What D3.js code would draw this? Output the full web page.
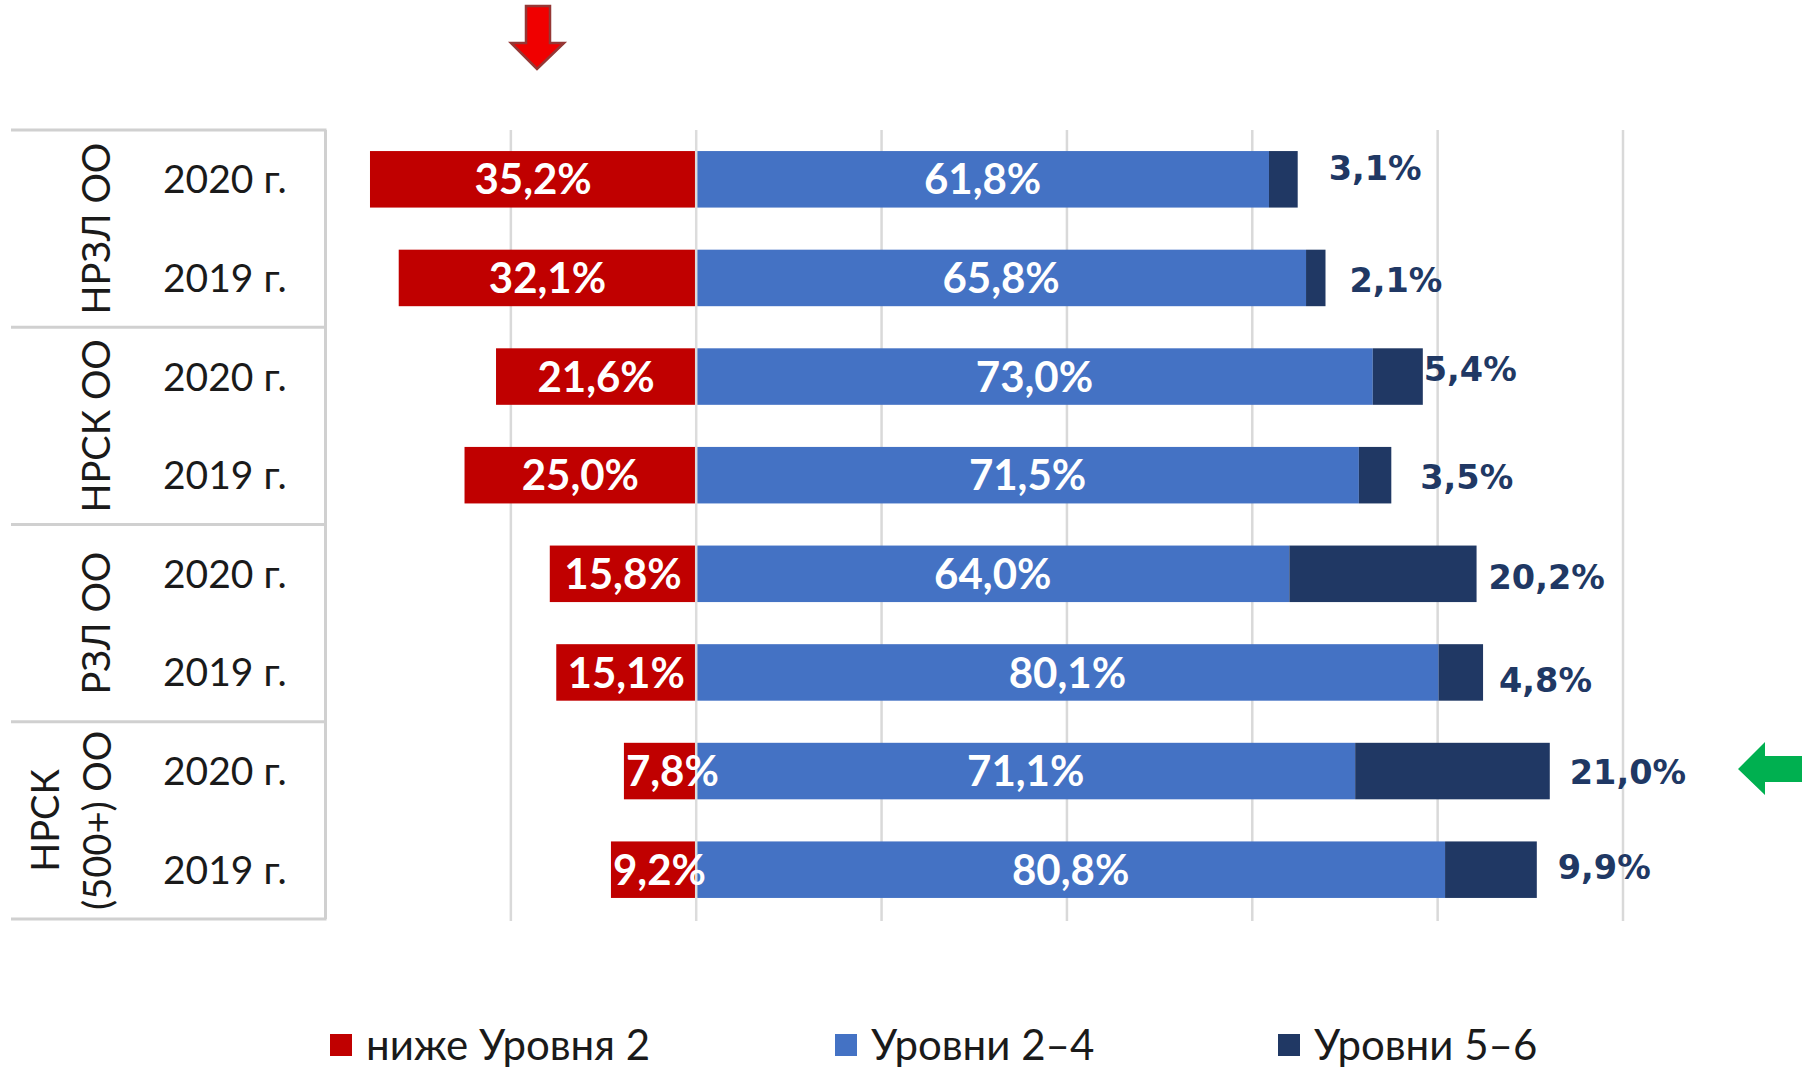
<!DOCTYPE html>
<meta charset="utf-8">
<script src="https://d3js.org/d3.v7.min.js"></script>
<style>
    body {
        margin: 0;
        background: #fff;
    }
    svg text {
        font-family: Lato, "Open Sans", sans-serif;
    }
</style>
<div id="viz_area"></div>
<script>
    // data
    var groups = [["НРЗЛ ОО"], ["НРСК ОО"], ["РЗЛ ОО"], ["НРСК", "(500+) ОО"]]
    var years = ["2020 г.", "2019 г."]
    var below2 = [35.2, 32.1, 21.6, 25.0, 15.8, 15.1, 7.8, 9.2]
    var levels24 = [61.8, 65.8, 73.0, 71.5, 64.0, 80.1, 71.1, 80.8]
    var levels56 = [3.1, 2.1, 5.4, 3.5, 20.2, 4.8, 21.0, 9.9]
    var seriesNames = ["ниже Уровня 2", "Уровни 2–4", "Уровни 5–6"]
    var xTicks = [-20, 0, 20, 40, 60, 80, 100]

    // outside label nudges (as placed by hand in the original)
    var nudge = [[11, -11], [4, 2], [-19, -8], [9, 2], [-8, 3], [-4, 8], [0, 1], [1, -3]]

    var colors = ["#c00000", "#4472c4", "#203864"]
    var W = 1805, H = 1069
    var plotTop = 130, plotBottom = 919, tableLeft = 11

    var rows = []
    groups.forEach(function(g, gi) {
        years.forEach(function(y, yi) {
            rows.push({ group: gi, year: y, i: gi * 2 + yi })
        })
    })
    rows.forEach(function(r) {
        r.b = below2[r.i]
        r.m = levels24[r.i]
        r.h = levels56[r.i]
    })

    var svg = d3.select("#viz_area").append("svg")
        .attr("width", W)
        .attr("height", H)

    var x = d3.scaleLinear().domain([-40, 100]).range([325.5, 1623])
    var y = d3.scaleBand().domain(rows.map(function(d) { return d.i }))
        .range([plotTop, plotBottom]).paddingInner(0.427).paddingOuter(0.2135)
    var yg = d3.scaleBand().domain(d3.range(groups.length)).range([plotTop, plotBottom])

    // gridlines
    svg.append("g").selectAll("line")
        .data(xTicks.filter(function(t) { return t !== 0 }))
        .join("line")
        .attr("x1", function(d) { return x(d) })
        .attr("x2", function(d) { return x(d) })
        .attr("y1", plotTop).attr("y2", plotBottom + 2)
        .attr("stroke", "#d9d9d9")
        .attr("stroke-width", 2.5)

    // bars
    var bars = svg.append("g")
    bars.selectAll("rect.b").data(rows).join("rect")
        .attr("class", "b")
        .attr("x", function(d) { return x(-d.b) })
        .attr("width", function(d) { return x(0) - x(-d.b) })
        .attr("y", function(d) { return y(d.i) })
        .attr("height", y.bandwidth())
        .attr("fill", colors[0])
    bars.selectAll("rect.m").data(rows).join("rect")
        .attr("class", "m")
        .attr("x", x(0))
        .attr("width", function(d) { return x(d.m) - x(0) })
        .attr("y", function(d) { return y(d.i) })
        .attr("height", y.bandwidth())
        .attr("fill", colors[1])
    bars.selectAll("rect.h").data(rows).join("rect")
        .attr("class", "h")
        .attr("x", function(d) { return x(d.m) })
        .attr("width", function(d) { return x(d.m + d.h) - x(d.m) })
        .attr("y", function(d) { return y(d.i) })
        .attr("height", y.bandwidth())
        .attr("fill", colors[2])

    // zero line
    svg.append("line")
        .attr("x1", x(0)).attr("x2", x(0))
        .attr("y1", plotTop).attr("y2", plotBottom + 2)
        .attr("stroke", "#dcdcdc")
        .attr("stroke-width", 2.5)

    var fmt = function(v) { return v.toFixed(1).replace(".", ",") + "%" }
    var cy = function(d) { return y(d.i) + y.bandwidth() / 2 }

    // value labels
    var lab = svg.append("g")
    lab.selectAll("text.lb").data(rows).join("text")
        .attr("class", "lb")
        .attr("x", function(d) { return (x(-d.b) + x(0)) / 2 })
        .attr("y", cy)
        .attr("dy", "0.36em")
        .attr("text-anchor", "middle")
        .attr("fill", "#fff")
        .attr("font-weight", "bold")
        .attr("font-size", "42px")
        .text(function(d) { return fmt(d.b) })
        .each(function(d) {
            // too wide for the bar: start it at the bar's left end
            var w = this.getComputedTextLength()
            if (w > x(0) - x(-d.b)) {
                d3.select(this).attr("text-anchor", "start").attr("x", x(-d.b) + 2)
            }
        })
    lab.selectAll("text.lm").data(rows).join("text")
        .attr("class", "lm")
        .attr("x", function(d) { return (x(0) + x(d.m)) / 2 })
        .attr("y", cy)
        .attr("dy", "0.36em")
        .attr("text-anchor", "middle")
        .attr("fill", "#fff")
        .attr("font-weight", "bold")
        .attr("font-size", "42px")
        .text(function(d) { return fmt(d.m) })
    lab.selectAll("text.lh").data(rows).join("text")
        .attr("class", "lh")
        .attr("x", function(d) { return x(d.m + d.h) + 20 + nudge[d.i][0] })
        .attr("y", function(d) { return cy(d) + nudge[d.i][1] })
        .attr("dy", "0.36em")
        .attr("fill", "#203864")
        .attr("font-weight", "bold")
        .attr("font-size", "33.5px")
        .style("font-family", "'DejaVu Sans', Verdana, sans-serif")
        .text(function(d) { return fmt(d.h) })

    // category table
    var tbl = svg.append("g")
    tbl.selectAll("line.hl")
        .data(d3.range(groups.length + 1))
        .join("line")
        .attr("class", "hl")
        .attr("x1", tableLeft).attr("x2", x(-40) + 1)
        .attr("y1", function(d) { return plotTop + d * yg.step() })
        .attr("y2", function(d) { return plotTop + d * yg.step() })
        .attr("stroke", "#d0d0d0")
        .attr("stroke-width", 3)
    tbl.append("line")
        .attr("x1", x(-40)).attr("x2", x(-40))
        .attr("y1", plotTop).attr("y2", plotBottom)
        .attr("stroke", "#d0d0d0")
        .attr("stroke-width", 3)

    tbl.selectAll("text.year").data(rows).join("text")
        .attr("class", "year")
        .attr("x", 163)
        .attr("y", cy)
        .attr("dy", "0.36em")
        .attr("fill", "#1a1a1a")
        .attr("font-size", "39px")
        .text(function(d) { return d.year })

    groups.forEach(function(g, gi) {
        var gy = yg(gi) + yg.bandwidth() / 2
        var t = tbl.append("text")
            .attr("transform", "translate(" + (g.length > 1 ? 71 : 96) + "," + gy + ") rotate(-90)")
            .attr("text-anchor", "middle")
            .attr("fill", "#1a1a1a")
            .attr("font-size", "38px")
        g.forEach(function(line, li) {
            t.append("tspan")
                .attr("x", 0)
                .attr("y", (li - (g.length - 1) / 2) * 52)
                .attr("dy", "0.36em")
                .text(line)
        })
    })

    // legend
    var legX = [330, 835, 1278]
    var leg = svg.append("g").selectAll("g")
        .data(seriesNames)
        .join("g")
        .attr("transform", function(d, i) { return "translate(" + legX[i] + ",1045)" })
    leg.append("rect")
        .attr("x", 0).attr("y", -11)
        .attr("width", 22).attr("height", 22)
        .attr("fill", function(d, i) { return colors[i] })
    leg.append("text")
        .attr("x", 36)
        .attr("dy", "0.36em")
        .attr("fill", "#1a1a1a")
        .attr("font-size", "42px")
        .text(function(d) { return d })

    // annotation arrows
    svg.append("path")
        .attr("d", "M526,6 L550,6 L550,43 L564,43 L537,69 L511,43 L526,43 Z")
        .attr("fill", "#f00000")
        .attr("stroke", "#953735")
        .attr("stroke-width", 2.5)
    svg.append("path")
        .attr("d", "M1738,769 L1765,742 L1765,756 L1802,756 L1802,782 L1765,782 L1765,795 Z")
        .attr("fill", "#00b050")
</script>
